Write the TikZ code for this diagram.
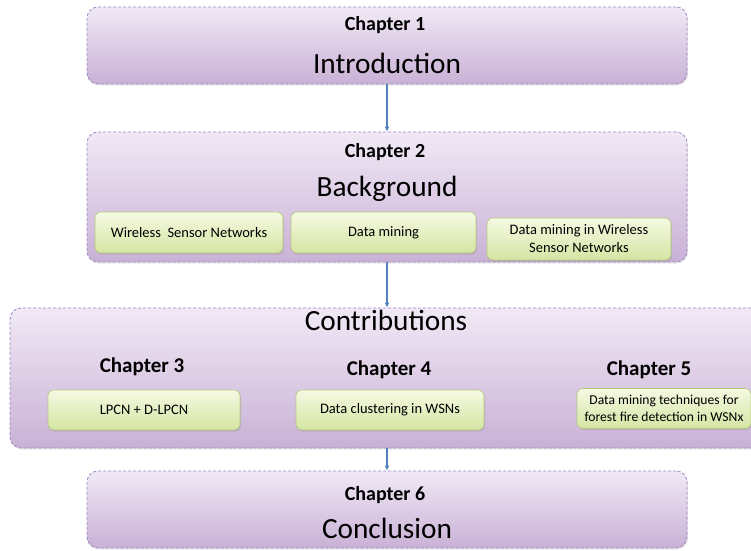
\documentclass[tikz,border=0pt]{standalone}
\usepackage{fontspec}
\setmainfont{Carlito}
\usetikzlibrary{arrows.meta,shadows}
\definecolor{purpleline}{HTML}{9B86C2}
\definecolor{purpletop}{HTML}{F1E9F5}
\definecolor{purplebot}{HTML}{C9B1D6}
\definecolor{greentop}{HTML}{F5F9E3}
\definecolor{greenbot}{HTML}{D5E5A3}
\definecolor{greenline}{HTML}{B3C97A}
\definecolor{arrowblue}{HTML}{4F81BD}
\tikzset{
  chapbox/.style={draw=purpleline, line width=0.8pt, dash pattern=on 3pt off 2pt,
    rounded corners=11pt, top color=purpletop, bottom color=purplebot,
    drop shadow={opacity=0.18, shadow xshift=1pt, shadow yshift=-1.5pt},
    inner sep=0pt},
  topicbox/.style={draw=greenline, line width=0.6pt, rounded corners=6pt,
    top color=greentop, bottom color=greenbot,
    drop shadow={opacity=0.25, shadow xshift=1pt, shadow yshift=-1.5pt},
    inner sep=2pt, align=center, font=\fontsize{14.5}{18}\selectfont},
  chaplabel/.style={anchor=base, font=\fontsize{20}{22}\selectfont\bfseries},
  contriblabel/.style={anchor=base, font=\fontsize{21}{24}\selectfont\bfseries},
  titlelabel/.style={anchor=base, font=\fontsize{29.3}{33}\selectfont},
  flow/.style={draw=arrowblue, line width=1.3pt, -{Latex[length=5pt,width=5pt]}}
}
\begin{document}
\begin{tikzpicture}[x=1pt,y=-1pt]
\useasboundingbox (0,0) rectangle (751,550);

% Chapter 1
\node[chapbox, minimum width=600pt, minimum height=77pt] (b1) at (387,45.5) {};
\node[chaplabel] (c1) at (385,30) {Chapter 1};
\node[titlelabel] (t1) at (387,73) {Introduction};

% Chapter 2
\node[chapbox, minimum width=600pt, minimum height=130pt] (b2) at (387,197) {};
\node[chaplabel] (c2) at (385,157) {Chapter 2};
\node[titlelabel] (t2) at (387,196) {Background};
\node[topicbox, minimum width=188pt, minimum height=41pt] (wsn) at (189,232.5) {Wireless\ \ Sensor\ Networks};
\node[topicbox, minimum width=185pt, minimum height=41pt] (dm) at (383.5,232.5) {Data mining};
\node[topicbox, minimum width=184pt, minimum height=42pt] (dmw) at (579,239) {Data mining in Wireless\\Sensor\ Networks};

% Contributions
\node[chapbox, minimum width=752pt, minimum height=140pt] (b3) at (386,378) {};
\node[titlelabel] (t3) at (386,330) {Contributions};
\node[contriblabel] (c3) at (142,372) {Chapter 3};
\node[contriblabel] (c4) at (389,375) {Chapter 4};
\node[contriblabel] (c5) at (649,375) {Chapter 5};
\node[topicbox, minimum width=192pt, minimum height=40pt] (lpcn) at (144,410) {LPCN + D-LPCN};
\node[topicbox, minimum width=188pt, minimum height=40pt] (clu) at (390,410) {Data clustering in WSNs};
\node[topicbox, minimum width=174pt, minimum height=40pt, inner sep=0pt,
  font=\fontsize{13.6}{17}\selectfont] (fire) at (664,408.5) {Data mining techniques for\\forest fire detection in WSNx};

% Chapter 6
\node[chapbox, minimum width=600pt, minimum height=77pt] (b4) at (387,509.5) {};
\node[chaplabel] (c6) at (385,500) {Chapter 6};
\node[titlelabel] (t6) at (387,538) {Conclusion};

% Reading order
\draw[flow] (b1.south) -- (b2.north);
\draw[flow] (b2.south) -- (b2.south |- b3.north);
\draw[flow] (b2.south |- b3.south) -- (b4.north);
\end{tikzpicture}
\end{document}
